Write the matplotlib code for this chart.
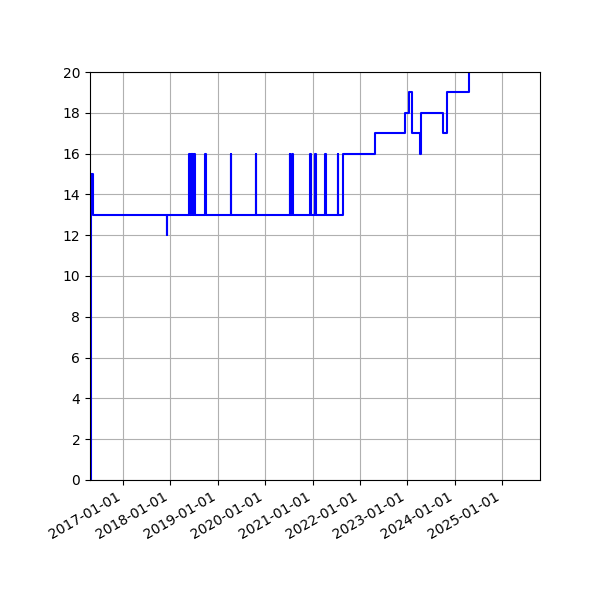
import pandas as pd
import matplotlib
matplotlib.use("Agg")
import matplotlib.pyplot as plt
import matplotlib.dates as mdates

# step changes (date, value), drawn as steps-post
dates = ["2016-04-25", "2016-04-27", "2016-05-15", "2017-12-05", "2017-12-10",
         "2018-05-28", "2018-06-02", "2018-06-08", "2018-06-14", "2018-06-20", "2018-06-26",
         "2018-07-01", "2018-07-08", "2018-09-26", "2018-10-02",
         "2019-04-10", "2019-04-16", "2019-10-20", "2019-10-26",
         "2020-07-08", "2020-07-14", "2020-07-28", "2020-08-03",
         "2020-12-12", "2020-12-18", "2021-01-20", "2021-01-26",
         "2021-04-10", "2021-04-16", "2021-07-14", "2021-07-20",
         "2021-08-22", "2022-04-25", "2022-12-15", "2023-01-12", "2023-02-05",
         "2023-04-08", "2023-04-15", "2023-10-05", "2023-11-01", "2024-04-20", "2025-10-20"]
values = [0, 15, 13, 12, 13,
          16, 13, 16, 13, 16, 13,
          16, 13, 16, 13,
          16, 13, 16, 13,
          16, 13, 16, 13,
          16, 13, 16, 13,
          16, 13, 16, 13,
          16, 17, 18, 19, 17,
          16, 18, 17, 19, 21, 21]

x = pd.to_datetime(dates)

fig, ax = plt.subplots(figsize=(6, 6), dpi=100)
fig.subplots_adjust(left=0.15, right=0.9, top=0.88, bottom=0.2)
ax.plot(x, values, color="blue", drawstyle="steps-post")
ax.set_ylim(0, 20)
ax.set_yticks(range(0, 21, 2))
ax.set_xlim(pd.Timestamp("2016-04-22"), pd.Timestamp("2025-10-20"))
ax.xaxis.set_major_locator(mdates.YearLocator())
ax.xaxis.set_major_formatter(mdates.DateFormatter("%Y-%m-%d"))
ax.grid(True)
fig.autofmt_xdate()
fig.subplots_adjust(left=0.15, right=0.9, top=0.88, bottom=0.2)
fig.savefig("out.png")
